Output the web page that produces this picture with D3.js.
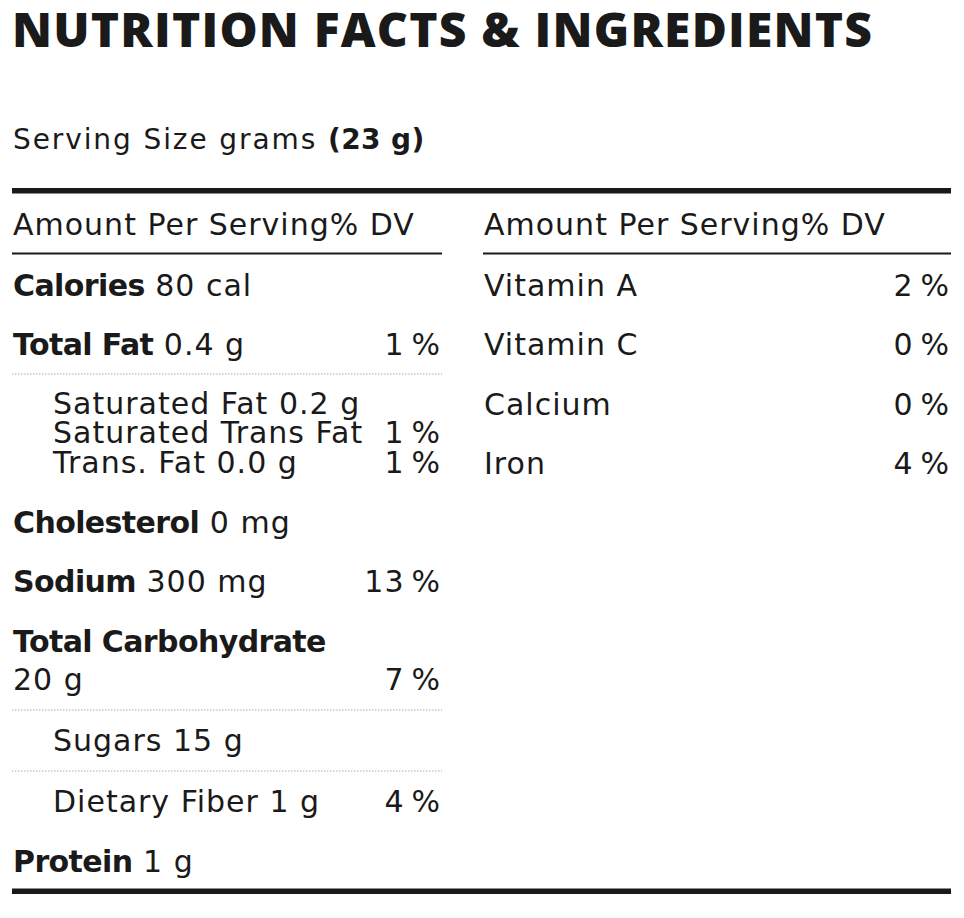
<!DOCTYPE html>
<html><head><meta charset="utf-8">
<script src="https://cdn.jsdelivr.net/npm/d3@7"></script>
<style>
html,body{margin:0;padding:0;background:#fff;}
svg{display:block;}
text{font-family:"DejaVu Sans","Noto Sans",sans-serif;fill:#1a1a1a;}
</style></head><body>
<svg id="c" width="964" height="918"></svg>
<script>
// ---- data ----
const title = "NUTRITION FACTS & INGREDIENTS";
const servingLabel = "Serving Size grams";
const servingValue = "(23 g)";
const headerText = "Amount Per Serving% DV";
const nutrientNames = ["Calories","Total Fat","Saturated Fat","Saturated Trans Fat","Trans. Fat","Cholesterol","Sodium","Total Carbohydrate","Sugars","Dietary Fiber","Protein"];
const nutrientAmounts = ["80 cal","0.4 g","0.2 g","","0.0 g","0 mg","300 mg","20 g","15 g","1 g","1 g"];
const nutrientDV = [null,1,null,1,1,null,13,7,null,4,null];
const nutrientBold = [true,true,false,false,false,true,true,true,false,false,true];
const nutrientIndent = [false,false,true,true,true,false,false,false,true,true,false];
const vitaminNames = ["Vitamin A","Vitamin C","Calcium","Iron"];
const vitaminDV = [2,0,0,4];

// ---- layout ----
const svg = d3.select("#c");
const ink = "#1a1a1a";
const L = {x0:12, x1:442, indent:53, pct:441};
const R = {x0:483, x1:951, pct:950};
const fs = 30;
const ls = 1;      // letter spacing regular
const lsb = -0.6;  // letter spacing bold
const rowY = [296,355,414,443,473,533,592,690,751,812,872];
const carbLabelY = 652;
const dotted = [374,710,771];

svg.append("text").attr("x",12).attr("y",47)
  .attr("font-size",48).attr("font-weight",800).attr("letter-spacing",1.2)
  .style("font-family","'Open Sans',sans-serif").text(title);

const ss = svg.append("text").attr("x",13).attr("y",149).attr("font-size",28).attr("letter-spacing",1.9);
ss.append("tspan").text(servingLabel + " ");
ss.append("tspan").attr("font-weight",700).attr("letter-spacing",0.4).text(servingValue);

svg.append("rect").attr("x",12).attr("y",188).attr("width",939).attr("height",5.5).attr("fill",ink);
svg.append("rect").attr("x",12).attr("y",888.5).attr("width",939).attr("height",5.5).attr("fill",ink);

[L,R].forEach(c=>{
  svg.append("text").attr("x",c.x0+1).attr("y",235).attr("font-size",fs).attr("letter-spacing",ls).text(headerText);
  svg.append("rect").attr("x",c.x0).attr("y",252.5).attr("width",c.x1-c.x0).attr("height",2).attr("fill",ink);
});

dotted.forEach(y=>{
  svg.append("line").attr("x1",L.x0).attr("x2",L.x1).attr("y1",y).attr("y2",y)
    .attr("stroke","#aaa").attr("stroke-width",1.2).attr("stroke-dasharray","1.5,1.5");
});

function pct(x,y,v){
  svg.append("text").attr("x",x).attr("y",y).attr("font-size",fs).attr("letter-spacing",ls)
    .attr("text-anchor","end").text(v+"\u2009%");
}

nutrientNames.forEach((n,i)=>{
  const x = nutrientIndent[i] ? L.indent : L.x0+1;
  const y = rowY[i];
  if (n === "Total Carbohydrate") {
    svg.append("text").attr("x",x).attr("y",carbLabelY).attr("font-size",fs).attr("font-weight",700).attr("letter-spacing",lsb).text(n);
    svg.append("text").attr("x",x).attr("y",y).attr("font-size",fs).attr("letter-spacing",ls).text(nutrientAmounts[i]);
    pct(L.pct,y,nutrientDV[i]);
    return;
  }
  const t = svg.append("text").attr("x",x).attr("y",y).attr("font-size",fs).attr("letter-spacing",ls);
  t.append("tspan").attr("font-weight",nutrientBold[i]?700:400).attr("letter-spacing",nutrientBold[i]?lsb:ls).text(n);
  if (nutrientAmounts[i]) t.append("tspan").attr("letter-spacing",ls).text(" "+nutrientAmounts[i]);
  if (nutrientDV[i] !== null) pct(L.pct,y,nutrientDV[i]);
});

const vy = d3.scalePoint().domain(vitaminNames).range([296,474]);
vitaminNames.forEach((n,i)=>{
  svg.append("text").attr("x",R.x0+1).attr("y",vy(n)).attr("font-size",fs).attr("letter-spacing",ls).text(n);
  pct(R.pct,vy(n),vitaminDV[i]);
});
</script></body></html>
